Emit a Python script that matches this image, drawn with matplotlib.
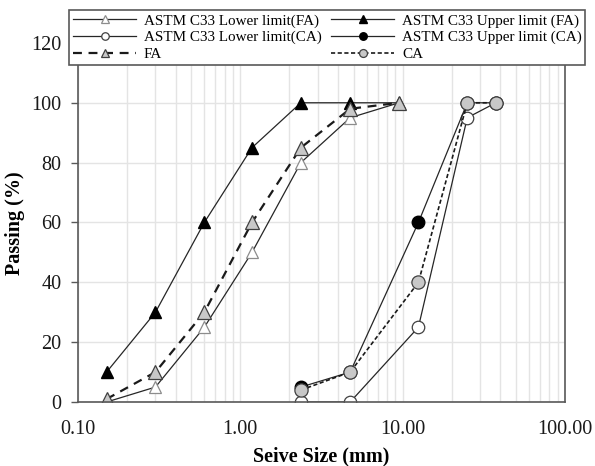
import numpy as np
import matplotlib
matplotlib.use("Agg")
from matplotlib import pyplot as plt
from matplotlib.ticker import FixedLocator, FuncFormatter, NullFormatter

# sieve sizes (mm)
sieve_fa = [0.15, 0.3, 0.6, 1.18, 2.36, 4.75, 9.5]
sieve_ca = [2.36, 4.75, 12.5, 25, 37.5]

# passing (%)
lower_fa = [0, 5, 25, 50, 80, 95, 100]
upper_fa = [10, 30, 60, 85, 100, 100, 100]
lower_ca = [0, 0, 25, 95, 100]
upper_ca = [5, 10, 60, 100, 100]
fa = [1, 10, 30, 60, 85, 98, 100]
ca = [4, 10, 40, 100, 100]

plt.rcParams['font.family'] = ['Liberation Serif', 'DejaVu Serif']

fig = plt.figure(figsize=(5.95, 4.66), dpi=100)
ax = fig.add_axes([0.1311, 0.1373, 0.8185, 0.8348])

line_c = '#262626'
grey = '#c8c8c8'

ax.plot(sieve_fa, lower_fa, '-', color=line_c, lw=0.9, marker='^', ms=9,
        mfc='white', mec='#8c8c8c', mew=0.9, label='ASTM C33 Lower limit(FA)')
ax.plot(sieve_fa, upper_fa, '-', color=line_c, lw=0.9, marker='^', ms=9,
        mfc='black', mec='black', label='ASTM C33 Upper limit (FA)')
ax.plot(sieve_ca, lower_ca, '-', color=line_c, lw=0.9, marker='o', ms=9,
        mfc='white', mec='#404040', mew=0.9, label='ASTM C33 Lower limit(CA)')
ax.plot(sieve_ca, upper_ca, '-', color=line_c, lw=0.9, marker='o', ms=9,
        mfc='black', mec='black', label='ASTM C33 Upper limit (CA)')
ax.plot(sieve_fa, fa, '--', color='#1a1a1a', lw=1.6, dashes=(4, 3), marker='^', ms=10,
        mfc=grey, mec='#404040', mew=0.9, label='FA')
ax.plot(sieve_ca, ca, '--', color='#1a1a1a', lw=1.2, dashes=(2.5, 1.5), marker='o', ms=9.5,
        mfc=grey, mec='#404040', mew=0.9, label='CA')

ax.set_xscale('log')
ax.set_xlim(0.1, 100)
ax.set_ylim(0, 130)
ax.set_yticks([0, 20, 40, 60, 80, 100, 120])
ax.xaxis.set_major_locator(FixedLocator([0.1, 1, 10, 100]))
ax.xaxis.set_major_formatter(FuncFormatter(lambda v, p: '%.2f' % v))
ax.xaxis.set_minor_formatter(NullFormatter())

ax.grid(True, which='both', axis='x', color='#e4e4e4', lw=1)
ax.grid(True, which='major', axis='y', color='#e4e4e4', lw=1)
ax.set_axisbelow(True)

ax.tick_params(axis='x', which='both', length=0, labelsize=14.5, pad=13, colors='#1a1a1a')
ax.tick_params(axis='y', length=5, width=1, color='#595959', labelsize=14.5, pad=7,
               labelcolor='#1a1a1a')
for s in ax.spines.values():
    s.set_color('#595959')
    s.set_linewidth(1.2)

ax.set_xlabel('Seive Size (mm)', fontsize=14.5, fontweight='bold', labelpad=5)
ax.set_ylabel('Passing (%)', fontsize=14.5, fontweight='bold')
ax.yaxis.set_label_coords(-0.108, 0.46)

h, l = ax.get_legend_handles_labels()
order = [0, 2, 4, 1, 3, 5]
leg = fig.legend([h[i] for i in order], [l[i] for i in order], ncol=2,
                 loc='upper left', bbox_to_anchor=(0.116, 1 - 10 / 466),
                 bbox_transform=fig.transFigure, borderaxespad=0,
                 fontsize=10.9, frameon=True, fancybox=False, framealpha=1,
                 edgecolor='#595959', handlelength=4.2, handletextpad=0.5,
                 labelspacing=0.2, markerscale=0.6, borderpad=0.25, columnspacing=0.6)
leg.get_frame().set_linewidth(1.2)

fig.savefig('out.png', dpi=100)
